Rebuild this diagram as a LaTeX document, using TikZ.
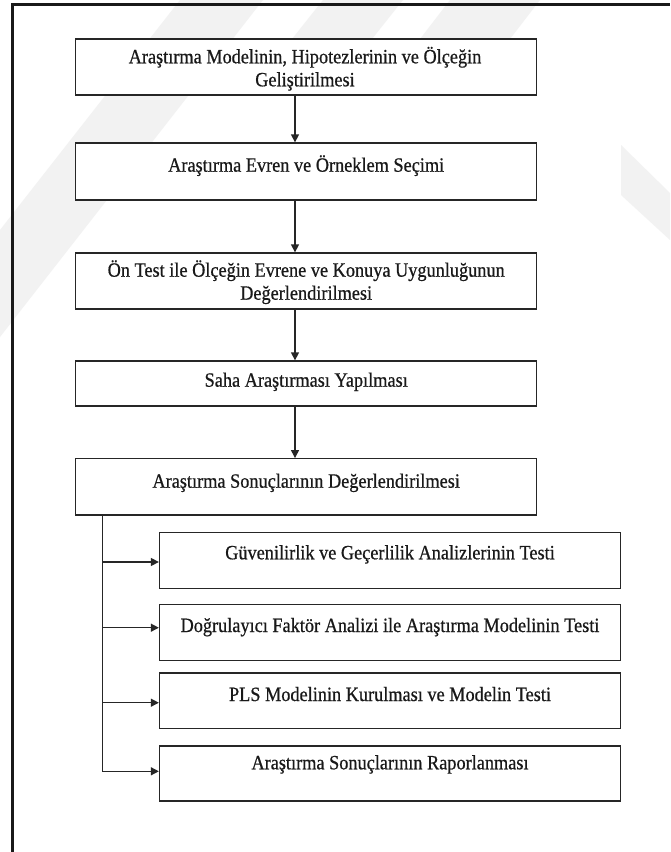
\documentclass[tikz,border=0pt]{standalone}
\usepackage{fontspec}
\setmainfont[FakeStretch=0.9,FakeBold=0.6]{Liberation Serif}
\usetikzlibrary{arrows.meta}
\begin{document}
\begin{tikzpicture}[x=1pt,y=-1pt,
  box/.style={draw=black!85,line width=1.3pt,fill=white,inner sep=0pt,rectangle,minimum width=461pt},
  txt/.style={font=\fontsize{20.3}{23}\selectfont,inner sep=0pt,anchor=base,align=center,text=black!90},
  conn/.style={draw=black!85,line width=1.3pt},
  arr/.style={conn,-{Triangle[length=8pt,width=8pt]}},
  wm/.style={fill=black!5,draw=none}]
\useasboundingbox[fill=white] (0,0) rectangle (670,852);
% faint watermark
\fill[wm] (180,0) -- (263,0) -- (0,337) -- (0,230) -- cycle;
\fill[wm] (323,0) -- (403,0) -- (372,39) -- (292,39) -- cycle;
\fill[wm] (450,0) -- (540,0) -- (510,39) -- (420,39) -- cycle;
\fill[wm] (621,145) -- (670,193) -- (670,240) -- (621,195) -- cycle;
% frame
\draw[line width=3pt,black!90] (12.7,852) -- (12.7,4.3) -- (670,4.3);
% main boxes
\node[box,minimum height=56pt] (b1) at (306.2,67) {};
\node[box,minimum height=57pt] (b2) at (306.2,171.5) {};
\node[box,minimum height=56pt] (b3) at (306.2,281) {};
\node[box,minimum height=45pt] (b4) at (306.2,383.5) {};
\node[box,minimum height=56.3pt] (b5) at (306.2,486.85) {};
% sub boxes
\node[box,minimum height=55.6pt] (s1) at (390,560.5) {};
\node[box,minimum height=56.4pt] (s2) at (390,632.5) {};
\node[box,minimum height=55.7pt] (s3) at (390,700.85) {};
\node[box,minimum height=55pt] (s4) at (390,773.5) {};
% texts (anchor base = baseline of the last line)
\node[txt] (t1) at (305,86.3) {Araştırma Modelinin, Hipotezlerinin ve Ölçeğin\\Geliştirilmesi};
\node[txt] (t2) at (306.2,171.7) {Araştırma Evren ve Örneklem Seçimi};
\node[txt] (t3) at (306.2,299.7) {Ön Test ile Ölçeğin Evrene ve Konuya Uygunluğunun\\Değerlendirilmesi};
\node[txt] (t4) at (306.2,386.7) {Saha Araştırması Yapılması};
\node[txt] (t5) at (306.2,487.7) {Araştırma Sonuçlarının Değerlendirilmesi};
\node[txt] (u1) at (390,559.3) {Güvenilirlik ve Geçerlilik Analizlerinin Testi};
\node[txt] (u2) at (390,632) {Doğrulayıcı Faktör Analizi ile Araştırma Modelinin Testi};
\node[txt] (u3) at (390,701) {PLS Modelinin Kurulması ve Modelin Testi};
\node[txt] (u4) at (390,769.3) {Araştırma Sonuçlarının Raporlanması};
% connectors
\coordinate (ax) at (295,0);
\draw[arr] (b1.south -| ax) -- (b2.north -| ax);
\draw[arr] (b2.south -| ax) -- (b3.north -| ax);
\draw[arr] (b3.south -| ax) -- (b4.north -| ax);
\draw[arr] (b4.south -| ax) -- (b5.north -| ax);
\coordinate (c1) at (102.3,562);
\coordinate (c2) at (102.3,627.7);
\coordinate (c3) at (102.3,702.7);
\coordinate (c4) at (102.3,771.3);
\draw[conn] (b5.south -| c1) -- (c4);
\draw[arr] (c1) -- (c1 -| s1.west);
\draw[arr] (c2) -- (c2 -| s2.west);
\draw[arr] (c3) -- (c3 -| s3.west);
\draw[arr] (c4) -- (c4 -| s4.west);
\end{tikzpicture}
\end{document}
